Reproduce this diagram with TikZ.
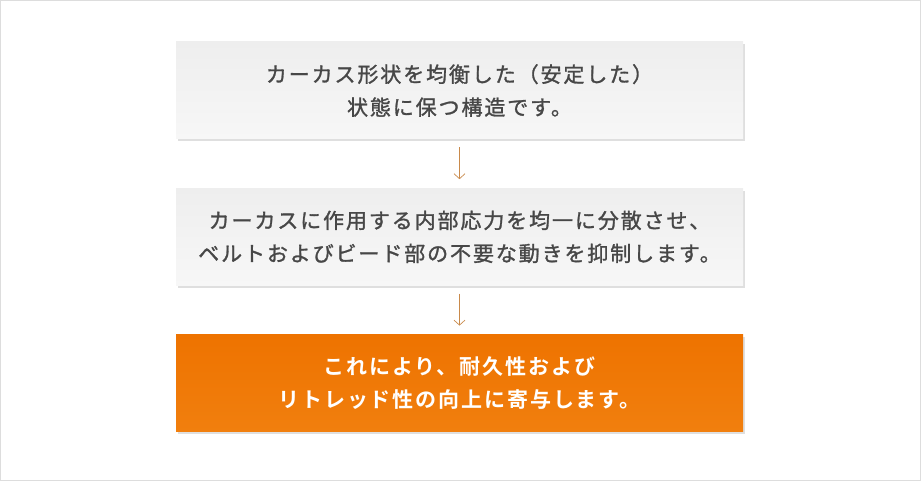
\documentclass[tikz,border=0pt]{standalone}
\usepackage{fontspec}
\newfontfamily\cjk[LetterSpace=9, FakeBold=1.3]{Noto Sans CJK JP}
\newfontfamily\cjkbold[LetterSpace=9]{Noto Sans CJK JP Bold}
\usetikzlibrary{arrows.meta, positioning, shadows}

\definecolor{boxgray}{HTML}{EEEEEE}
\definecolor{boxlight}{HTML}{F7F7F7}
\definecolor{textgray}{HTML}{474747}
\definecolor{orangetop}{HTML}{EE7300}
\definecolor{orangelow}{HTML}{F17F0E}
\definecolor{arrowbrown}{HTML}{C98A4B}
\definecolor{framegray}{HTML}{DDDDDD}

\begin{document}
\begin{tikzpicture}[x=1pt, y=-1pt,
        every node/.style={inner sep=0pt, font=\cjk\fontsize{21}{33}\selectfont, align=center},
        stepgray/.style={minimum width=567pt, minimum height=97pt, text=textgray,
            top color=boxgray, bottom color=boxlight,
            drop shadow={shadow xshift=1.5pt, shadow yshift=-2.5pt, opacity=0.25}},
        steporange/.style={stepgray, text=white, font=\cjkbold\fontsize{21}{33}\selectfont,
            top color=orangetop, bottom color=orangelow},
        flow/.style={draw=arrowbrown, line width=0.7pt, -{Straight Barb[length=5pt, width=11pt]}}
    ]
        % frame
        \draw[framegray, line width=1pt] (0.5,0.5) rectangle (920.5,480.5);
        \useasboundingbox (0,0) rectangle (921,481);

        % steps
        \node[stepgray] (shape) at (459.5,90.5) {カーカス形状を均衡した（安定した）\\状態に保つ構造です。};
        \node[stepgray, below=49pt of shape] (stress) {カーカスに作用する内部応力を均一に分散させ、\\ベルトおよびビード部の不要な動きを抑制します。};
        \node[steporange, below=49pt of stress] (result) {これにより、耐久性および\\リトレッド性の向上に寄与します。};

        % arrows
        \draw[flow] ([yshift=-8pt]shape.south) -- ([yshift=9pt]stress.north);
        \draw[flow] ([yshift=-8pt]stress.south) -- ([yshift=9pt]result.north);
    \end{tikzpicture}
\end{document}
